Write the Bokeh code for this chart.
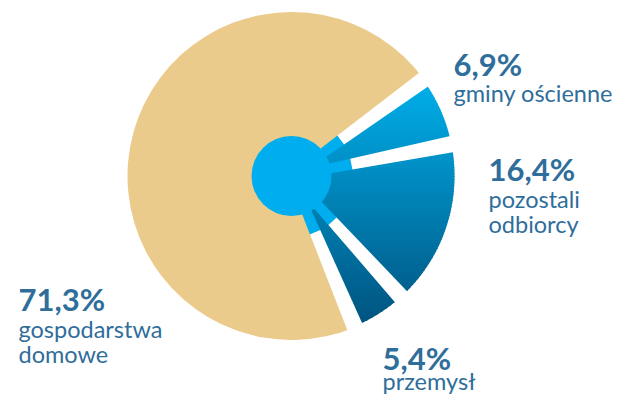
import math
from bokeh.plotting import figure
from bokeh.models import Range1d
from bokeh.core.properties import value
from bokeh.embed import file_html
from bokeh.resources import INLINE

# ---- data ----
categories = ["gospodarstwa domowe", "gminy ościenne", "pozostali odbiorcy", "przemysł"]
shares = [71.3, 6.9, 16.4, 5.4]
pct_labels = ["71,3%", "6,9%", "16,4%", "5,4%"]
desc_lines = [["gospodarstwa", "domowe"], ["gminy ościenne"], ["pozostali", "odbiorcy"], ["przemysł"]]

# ---- layout / style ----
W, H = 612, 397
REF_H = 405
def Y(yref):
    return REF_H - yref

cx, cy = 291.0, Y(175.5)
R_BEIGE = 164.0
R_BLUE = 163.0
R_HUB = 40.0
R_INNER_GAP = 61.0
START_DEG = 36.1  # where the beige slice begins (counter-clockwise)

BEIGE = "#EBCB8B"
LIGHT_BLUE = "#00AEEF"
TEXT = "#2F6E9B"
GRAD_TOP = (0x00, 0xAD, 0xE8)
GRAD_BOT = (0x00, 0x50, 0x7B)
GRAD_Y0, GRAD_Y1 = Y(85), Y(332)

TEXT_DY = -11.5  # renderer places alphabetic baseline lower; compensate
label_pos = [  # (x, baseline of pct, baseline of first desc line)
    (18, 310, 340),
    (453, 75, 104),
    (488, 180, 210),
    (382, 369, 392),
]
LINE_STEP = 24.5

p = figure(width=W, height=H, output_backend="svg", toolbar_location=None,
           x_range=Range1d(0, W), y_range=Range1d(Y(H), Y(0)),
           min_border=0)
p.axis.visible = False
p.grid.visible = False
p.outline_line_color = None
p.background_fill_color = "white"

total = sum(shares)
spans = [s / total * 360.0 for s in shares]
beige_start = START_DEG
beige_end = START_DEG + spans[0]
bounds = [START_DEG]
a = START_DEG
for sp in spans[1:]:
    a -= sp
    bounds.append(a)

p.wedge(x=[cx], y=[cy], radius=R_BEIGE, start_angle=math.radians(beige_start),
        end_angle=math.radians(beige_end), fill_color=BEIGE, line_color=None)

def wedge_poly(a0, a1, r, n=80):
    pts = [(cx, cy)]
    for i in range(n + 1):
        t = math.radians(a0 + (a1 - a0) * i / n)
        pts.append((cx + r * math.cos(t), cy + r * math.sin(t)))
    return pts

def clip_half(poly, yv, keep_above):
    out = []
    n = len(poly)
    for i in range(n):
        P = poly[i]
        Q = poly[(i + 1) % n]
        pin = (P[1] >= yv) if keep_above else (P[1] <= yv)
        qin = (Q[1] >= yv) if keep_above else (Q[1] <= yv)
        if pin:
            out.append(P)
        if pin != qin:
            t = (yv - P[1]) / (Q[1] - P[1])
            out.append((P[0] + t * (Q[0] - P[0]), yv))
    return out

def grad_color(yc):
    t = (GRAD_Y0 - yc) / (GRAD_Y0 - GRAD_Y1)
    t = min(max(t, 0.0), 1.0)
    c = [round(GRAD_TOP[k] + (GRAD_BOT[k] - GRAD_TOP[k]) * t) for k in range(3)]
    return "#%02x%02x%02x" % tuple(c)

gx, gy, gc = [], [], []
for i in range(3):
    a_hi = bounds[i]
    a_lo = bounds[i + 1]
    poly = wedge_poly(a_lo, a_hi, R_BLUE)
    ymin = min(q[1] for q in poly)
    ymax = max(q[1] for q in poly)
    step = 3.0
    yb = ymin
    while yb < ymax:
        yt = min(yb + step, ymax)
        piece = clip_half(poly, yb - 0.6, True)
        piece = clip_half(piece, yt + 0.6, False)
        if len(piece) >= 3:
            gx.append([q[0] for q in piece])
            gy.append([q[1] for q in piece])
            gc.append(grad_color((yb + yt) / 2))
        yb = yt
p.patches(xs=gx, ys=gy, fill_color=gc, line_color=None)

def hw(r):
    return 5.5 + 0.026 * (r - 60.0)

def ray_poly(theta_deg, r0, r1):
    t = math.radians(theta_deg)
    ux, uy = math.cos(t), math.sin(t)
    nx, ny = -uy, ux
    pts = [
        (cx + r0 * ux + hw(r0) * nx, cy + r0 * uy + hw(r0) * ny),
        (cx + r1 * ux + hw(r1) * nx, cy + r1 * uy + hw(r1) * ny),
        (cx + r1 * ux - hw(r1) * nx, cy + r1 * uy - hw(r1) * ny),
        (cx + r0 * ux - hw(r0) * nx, cy + r0 * uy - hw(r0) * ny),
    ]
    return [q[0] for q in pts], [q[1] for q in pts]

lbx, lby, wx, wy = [], [], [], []
for b in bounds:
    xs, ys = ray_poly(b, 0.0, R_INNER_GAP)
    lbx.append(xs); lby.append(ys)
    xs, ys = ray_poly(b, R_INNER_GAP, 185.0)
    wx.append(xs); wy.append(ys)
p.patches(xs=lbx, ys=lby, fill_color=LIGHT_BLUE, line_color=None)
p.patches(xs=wx, ys=wy, fill_color="white", line_color=None)

p.circle(x=[cx], y=[cy], radius=R_HUB, fill_color=LIGHT_BLUE, line_color=None)

px, py, ptxt = [], [], []
dx, dy, dtxt = [], [], []
for i in range(4):
    x0, yp, yd = label_pos[i]
    px.append(x0); py.append(Y(yp + TEXT_DY)); ptxt.append(pct_labels[i])
    for k, line in enumerate(desc_lines[i]):
        dx.append(x0); dy.append(Y(yd + k * LINE_STEP + TEXT_DY)); dtxt.append(line)

p.text(x=px, y=py, text=ptxt, text_font=value("Lato"), text_font_style="bold",
       text_font_size=value("31px"), text_color=TEXT, text_align="left",
       text_baseline="alphabetic")
p.text(x=dx, y=dy, text=dtxt, text_font=value("Lato"), text_font_size=value("23.5px"),
       text_color=TEXT, text_align="left", text_baseline="alphabetic")

open("out.html", "w").write(file_html(p, INLINE))
